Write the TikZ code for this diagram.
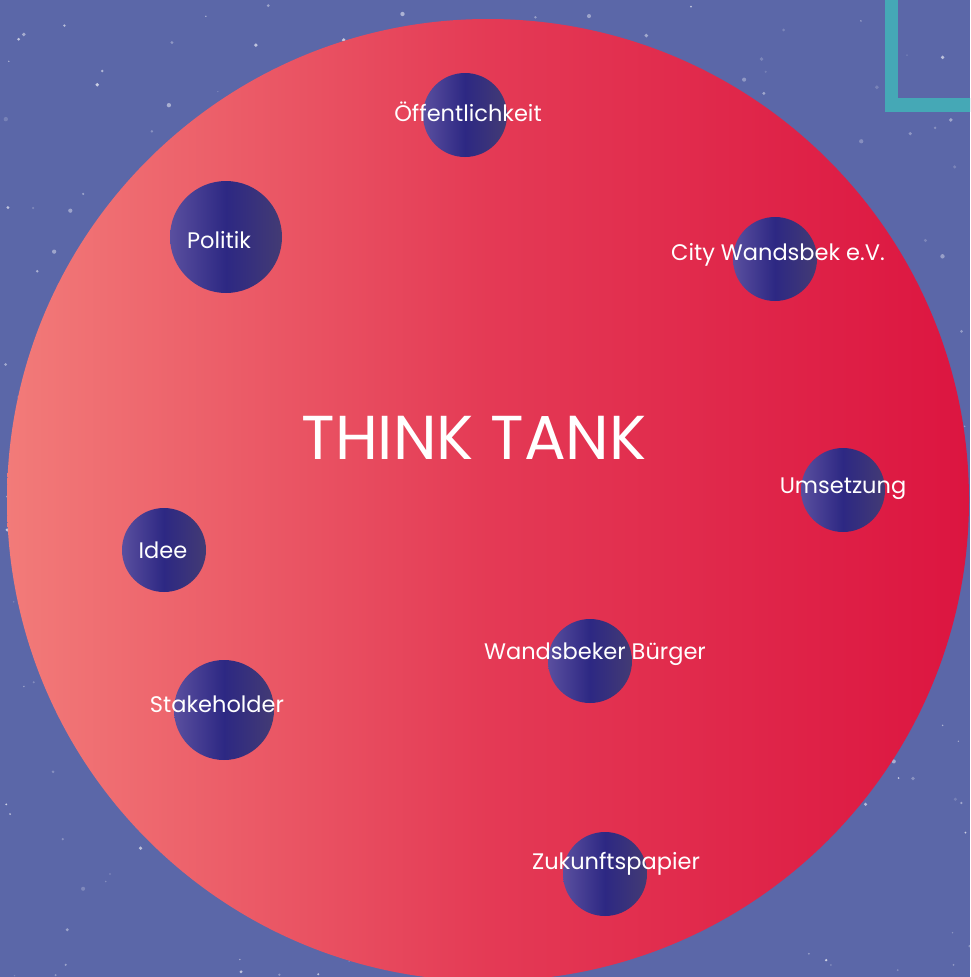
\documentclass[tikz,border=0pt]{standalone}
\usepackage{fontspec}
\setmainfont{Poppins}
\usepackage{tikz}

\definecolor{nightsky}{HTML}{5B67A8}
\definecolor{tankleft}{HTML}{F27B79}
\definecolor{tankmid}{HTML}{E43A55}
\definecolor{tankright}{HTML}{DC1540}
\definecolor{bubbleleft}{HTML}{5A4F9F}
\definecolor{bubblemid}{HTML}{2D2883}
\definecolor{bubbleright}{HTML}{433B74}
\definecolor{cornerteal}{HTML}{45A8B6}

\tikzset{
  bubble/.style={circle, inner sep=0pt, minimum size=#1,
    left color=bubbleleft, right color=bubbleright, middle color=bubblemid},
  bubble/.default=84,
  tag/.style={font=\fontsize{22.5}{26}\selectfont, white},
}

\begin{document}
\begin{tikzpicture}[x=1pt,y=-1pt]
        \useasboundingbox (0,0) rectangle (970,977);
        \clip (0,0) rectangle (970,977);
        \fill[nightsky] (0,0) rectangle (970,977);

        % faint stars
        \pgfmathsetseed{42}
        \foreach \i in {1,...,320} {
            \pgfmathsetmacro\sx{rnd*970}
            \pgfmathsetmacro\sy{rnd*977}
            \pgfmathsetmacro\so{0.15+0.55*rnd}
            \pgfmathsetmacro\sr{0.6+1.6*rnd}
            \fill[white, opacity=\so] (\sx,\sy) circle (\sr);
        }

        % corner bracket
        \draw[cornerteal, line width=13.5, line join=miter] (891.5,-10) -- (891.5,105) -- (980,105);

        \shade[left color=tankleft, right color=tankright, middle color=tankmid]
            (488,500) circle (481);
        \node[font={\fontsize{62}{70}\selectfont}, white] (tank) at (474,438) {THINK TANK};

        \node[bubble] (oeffdot) at (465,115) {};
        \node[tag] (oeff) at (468,112) {Öffentlichkeit};

        \node[bubble=112] (politikdot) at (226,237) {};
        \node[tag] (politik) at (219,240) {Politik};

        \node[bubble] (citydot) at (775,259) {};
        \node[tag] (city) at (778,255) {City Wandsbek e.V.};

        \node[bubble] (umsetzungdot) at (843,490) {};
        \node[tag] (umsetzung) at (843,489) {Umsetzung};

        \node[bubble] (ideedot) at (164,550) {};
        \node[tag] (idee) at (163,550) {Idee};

        \node[bubble] (buergerdot) at (590,661) {};
        \node[tag] (buerger) at (595,654) {Wandsbeker Bürger};

        \node[bubble=100] (stakedot) at (224,710) {};
        \node[tag] (stake) at (217,704) {Stakeholder};

        \node[bubble] (zukunftdot) at (605,874) {};
        \node[tag] (zukunft) at (616,864) {Zukunftspapier};
    \end{tikzpicture}
\end{document}
